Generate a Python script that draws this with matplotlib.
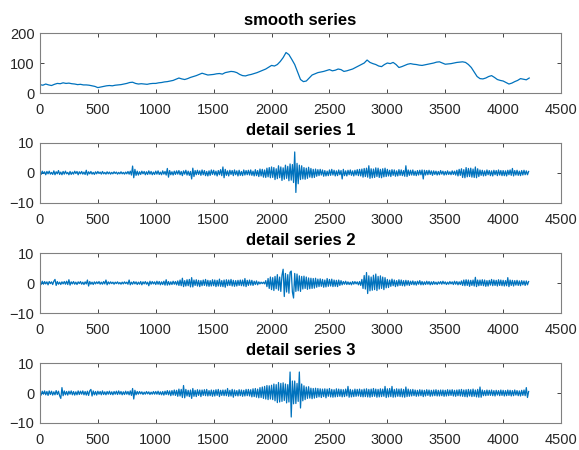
import numpy as np
import matplotlib
matplotlib.use("Agg")
from matplotlib import pyplot as plt

plt.rcParams['font.family'] = ['Liberation Sans', 'DejaVu Sans']

# smooth series, one value every 25 samples
smooth_step = 25
smooth = [
    28, 26, 30, 27, 25, 29, 32, 31, 34, 32, 33, 31, 30, 28, 29, 27, 27, 26, 24, 22, 18,
    20, 22, 24, 25, 24, 26, 27, 28, 30, 32, 35, 36, 32, 30, 31, 30, 29, 31, 32, 32,
    34, 35, 37, 38, 40, 42, 46, 50, 47, 45, 48, 52, 55, 58, 62, 66, 63, 60, 61, 62,
    64, 65, 63, 68, 70, 72, 71, 68, 62, 58, 57, 60, 62, 65, 68, 72, 76, 80, 86, 92,
    90, 95, 105, 118, 135, 128, 112, 95, 70, 45, 38, 40, 50, 60, 64, 68, 70, 72, 75, 78,
    74, 76, 80, 78, 72, 74, 77, 80, 85, 90, 95, 100, 110, 102, 98, 95, 90, 88, 95, 100,
    98, 102, 95, 85, 88, 92, 96, 98, 96, 95, 93, 92, 94, 96, 98, 100, 103, 104, 100, 96,
    97, 98, 100, 102, 103, 104, 102, 95, 85, 70, 55, 48, 47, 50, 55, 58, 52, 45, 42, 40,
    35, 30, 33, 38, 42, 48, 46, 44, 50,
]

# detail series, one value every 10 samples (one row = 200 samples)
detail_step = 10
detail1 = [
    0.3, -0.5, 0.6, -0.2, 0.4, -0.6, 0.5, -0.3, 0.6, -0.4, 0.2, -0.5, 0.7, -0.6, 0.4, -0.3, 0.8, -0.5, 0.3, -0.6,
    0.5, -0.4, 0.6, -0.3, 0.2, -0.6, 0.5, -0.5, 0.3, -0.4, 0.6, -0.2, 0.5, -0.6, 0.4, -0.3, 0.5, -0.4, 0.3, -0.5,
    0.9, -0.7, 0.4, -0.3, 0.5, -0.4, 0.2, -0.5, 0.4, -0.3, 0.5, -0.2, 0.3, -0.4, 0.5, -0.3, 0.2, -0.4, 0.4, -0.3,
    0.3, -0.4, 0.2, -0.3, 0.4, -0.2, 0.3, -0.4, 0.2, -0.3, 0.4, -0.3, 0.2, -0.4, 0.3, -0.3, 0.5, -0.4, 0.6, -0.7,
    2.3, -1.6, 1.2, -0.8, 0.6, -0.7, 0.4, -0.5, 0.6, -0.3, 0.5, -0.6, 0.4, -0.5, 0.7, -0.4, 0.5, -0.6, 0.3, -0.5,
    0.6, -0.4, 0.7, -0.5, 0.3, -0.6, 0.7, -0.4, 0.5, -0.7, 1.5, -1.4, 0.8, -0.6, 0.4, -0.7, 0.6, -0.5, 0.7, -0.4,
    0.8, -0.6, 0.5, -0.9, 0.7, -0.4, 0.9, -0.7, 0.6, -0.8, 0.5, -2.0, 1.6, -1.2, 0.8, -0.6, 0.9, -0.5, 0.7, -0.8,
    1.0, -0.6, 0.8, -0.9, 0.5, -1.0, 0.7, -0.8, 1.0, -0.5, 0.9, -0.7, 0.6, -1.0, 0.8, -0.6, 1.1, -0.9, 2.0, -1.6,
    1.2, -0.8, 0.7, -1.0, 0.9, -0.5, 0.8, -0.9, 1.0, -0.6, 0.7, -1.0, 0.9, -0.8, 0.5, -0.9, 1.0, -0.7, 0.8, -0.6,
    0.9, -0.7, 1.0, -0.8, 0.6, -1.0, 1.1, -0.9, 0.8, -1.2, 1.3, -1.0, 1.2, -1.4, 1.0, -1.5, 1.6, -1.3, 1.8, -1.6,
    2.0, -1.5, 1.8, -2.2, 1.4, -1.9, 2.4, -1.6, 2.0, -2.5, 1.7, -2.1, 2.6, -1.8, 2.2, -2.6, 3.0, -2.4, 2.8, -3.2,
    7.0, -6.5, 3.2, -3.6, 2.6, -2.2, 2.4, -2.0, 1.8, -2.1, 1.6, -1.8, 1.9, -1.4, 1.5, -1.6, 1.2, -1.5, 1.3, -1.1,
    1.1, -0.9, 1.2, -0.7, 1.0, -1.1, 0.8, -1.0, 0.6, -0.9, 1.0, -0.8, 1.2, -0.7, 0.9, -1.0, 0.7, -0.9, 1.0, -0.6,
    0.8, -2.0, 1.2, -0.9, 0.7, -1.0, 0.9, -0.6, 1.0, -0.8, 0.7, -1.0, 0.9, -0.7, 1.1, -0.9, 1.2, -1.0, 1.3, -1.4,
    1.5, -1.2, 1.6, -1.4, 2.4, -1.8, 1.4, -1.6, 1.3, -1.5, 1.7, -1.2, 1.6, -1.5, 1.2, -1.6, 1.4, -1.3, 1.6, -1.2,
    1.2, -1.0, 0.9, -1.2, 1.1, -0.8, 1.0, -1.1, 0.7, -1.0, 1.1, -0.8, 1.0, -0.9, 0.8, -1.1, 2.4, -1.2, 1.0, -0.8,
    0.9, -0.7, 1.0, -0.8, 0.6, -0.9, 0.8, -0.7, 0.9, -0.6, 1.0, -2.0, 0.9, -0.7, 0.8, -0.6, 0.9, -0.5, 0.7, -0.8,
    0.7, -0.5, 0.6, -0.7, 0.5, -0.6, 0.8, -0.4, 0.6, -0.7, 0.5, -0.6, 0.7, -0.5, 0.4, -0.6, 0.7, -0.5, 0.6, -0.7,
    0.9, -1.0, 1.2, -0.8, 1.4, -1.5, 1.1, -1.6, 1.8, -1.3, 1.5, -1.2, 1.6, -1.4, 1.3, -1.5, 2.0, -1.6, 1.4, -1.2,
    1.0, -0.8, 0.9, -1.0, 0.7, -0.9, 1.0, -0.6, 0.8, -0.9, 0.7, -1.0, 0.9, -0.6, 0.8, -0.9, 1.0, -0.7, 0.8, -0.9,
    0.8, -0.9, 0.7, -1.0, 0.9, -0.6, 1.0, -0.8, 1.5, -1.0, 0.8, -0.7, 0.9, -0.8, 0.6, -0.9, 0.8, -0.7, 0.9, -0.6,
    0.7, -0.6, 0.5,
]
detail2 = [
    0.3, -0.5, 0.6, -0.4, 0.5, -0.3, 0.4, -0.6, 0.5, -0.2, 0.4, -0.5, 0.6, 1.2, -0.8, 0.5, -0.4, 0.3, -0.5, 0.4,
    -0.3, 0.5, -0.4, 0.6, -0.5, 1.1, -0.7, 0.4, -0.3, 0.5, -0.4, 0.3, -0.5, 0.4, -0.2, 0.5, -0.4, 0.3, -0.5, 0.4,
    -0.3, 1.0, -1.0, 0.5, -0.4, 0.3, -0.5, 0.4, -0.3, 0.4, -0.2, 0.5, -0.4, 0.3, -0.4, 0.5, -0.3, 1.0, -0.6, 0.4,
    -0.3, 0.4, -0.2, 0.3, -0.4, 0.3, -0.2, 0.4, -0.3, 0.2, -0.4, 0.3, -0.3, 0.4, -0.2, 0.3, -0.4, 1.0, -0.6, 0.3,
    -0.4, 0.5, -0.3, 0.4, -0.5, 0.3, -0.4, 0.5, -0.6, 0.4, -0.3, 0.5, -0.4, 0.3, -0.9, 0.6, -0.4, 0.5, -0.3, 0.4,
    -0.5, 0.6, -0.4, 0.5, -0.6, 0.4, -0.5, 0.6, -0.7, 1.1, -0.7, 0.5, -0.6, 0.4, -0.5, 0.6, -0.4, 0.5, -0.6, 0.7,
    -0.8, 1.0, -0.9, 1.6, -1.2, 0.8, -1.0, 1.1, -0.9, 1.2, -1.3, 1.8, -1.3, 1.0, -0.8, 1.1, -1.0, 0.9, -1.2, 0.8,
    -0.9, 1.0, -0.8, 1.2, -1.0, 0.9, -1.1, 0.8, -1.0, 1.1, -0.9, 1.0, -1.2, 0.9, -1.0, 1.3, -1.1, 0.8, -1.2, 1.0,
    -1.4, 1.1, -0.9, 1.0, -0.8, 1.2, -1.0, 0.9, -1.1, 0.8, -1.0, 0.9, -0.8, 1.0, -0.9, 1.0, -1.0, 1.5, -1.2, 0.9,
    -0.8, 1.0, -0.7, 0.9, -0.8, 0.6, -0.5, 0.7, -0.6, 0.4, -0.3, 0.3, -0.2, 0.3, -0.3, 0.8, -1.2, 1.5, -1.8, 2.0,
    -2.2, 1.8, -2.5, 2.2, -1.9, 2.8, -2.4, 2.0, -2.8, 2.6, 4.6, -4.5, 3.2, -3.0, 2.8, -3.4, 3.6, 4.0, -3.0, -5.0,
    3.2, -2.8, 3.0, -2.6, 2.4, -2.8, 2.2, -2.0, 2.3, -1.8, 2.0, -2.1, 1.7, -1.9, 1.6, -1.8, 1.5, -1.7, 1.6, -1.4,
    1.3, -1.2, 1.4, -1.1, 1.2, -1.4, 1.0, -1.3, 1.5, -1.1, 1.2, -1.0, 1.3, -1.2, 1.0, -1.1, 0.9, -1.2, 1.0, -0.8,
    0.8, -0.6, 0.5, -0.4, 0.6, -0.5, 0.4, -0.5, 0.3, -0.6, 0.5, -0.4, 0.5, -0.3, 0.4, -0.6, 0.5, -0.8, 1.2, -1.8,
    2.5, -2.0, 3.5, -3.5, 2.4, -2.6, 2.0, -2.4, 2.6, -2.2, 3.0, -2.5, 2.2, -2.0, 2.4, -1.8, 2.0, -2.2, 1.8, -1.6,
    1.2, -1.5, 1.0, -1.1, 1.3, -0.9, 1.0, -1.2, 0.8, -1.0, 1.1, -0.8, 1.0, -0.9, 0.8, -1.0, 0.9, -0.7, 0.8, -0.8,
    0.6, -0.5, 0.7, -0.6, 0.5, -0.7, 0.6, -0.4, 0.8, -0.6, 0.5, -0.6, 0.4, -0.5, 0.6, -0.4, 0.5, -0.6, 0.4, -0.5,
    0.5, -0.4, 0.3, -0.5, 0.4, -0.3, 0.5, -0.4, 0.6, -0.3, 0.4, -0.5, 0.3, -0.4, 0.5, -0.3, 0.4, -0.5, 0.6, -0.4,
    0.5, -0.6, 0.4, -0.5, 0.7, -0.8, 1.0, -0.9, 1.1, -0.8, 1.0, -1.1, 0.9, -0.8, 1.0, -1.0, 1.9, -1.2, 1.0, -0.9,
    1.0, -0.8, 1.1, -0.9, 1.0, -1.1, 0.8, -1.0, 0.9, -0.7, 1.2, -0.9, 1.0, -0.8, 0.9, -1.0, 1.1, -0.8, 1.0, -0.9,
    0.9, -1.0, 0.8, -0.9, 1.8, -1.2, 1.0, -0.8, 0.9, -1.0, 0.8, -0.7, 0.9, -0.8, 0.7, -0.9, 0.8, -0.6, 0.7, -0.8,
    0.7, -0.6, 0.5,
]
detail3 = [
    0.5, -0.7, 0.6, -0.4, 0.7, -0.6, 0.5, -0.8, 0.7, -0.5, 0.6, -0.7, 0.4, -0.6, 0.8, -0.5, 0.6, -0.9, -1.8, 1.8,
    -0.9, 0.7, -0.6, 0.5, -0.7, 0.6, -0.4, 0.7, -0.6, 0.5, -0.7, 0.4, -0.6, 0.7, -0.5, 0.6, -0.4, 0.7, -0.6, 0.5,
    -0.7, 0.6, -0.8, 0.7, 1.2, -1.0, 0.7, -0.6, 0.5, -0.7, 0.6, -0.4, 0.5, -0.6, 0.7, -0.5, 0.4, -0.6, 0.5, -0.4,
    0.6, -0.5, 0.4, -0.6, 0.5, -0.4, 0.6, -0.5, 0.7, -0.4, 0.5, -0.6, 0.4, -0.5, 0.6, -0.4, 0.5, -0.6, 0.7, -0.8,
    1.5, -2.0, 0.9, -0.6, 0.5, -0.4, 0.5, -0.3, 0.4, -0.5, 0.3, -0.4, 0.5, -0.3, 0.4, -0.5, 0.3, -0.4, 0.5, -0.4,
    0.5, -0.4, 0.6, -0.5, 0.4, -0.6, 0.5, -0.7, 0.6, -0.5, 0.8, -0.6, 0.7, -0.9, 0.8, -0.7, 1.0, -0.8, 0.9, -1.1,
    1.3, -1.0, 1.2, -1.5, 2.5, -1.6, 1.2, -1.0, 0.9, -1.2, 1.0, -1.8, 1.5, -1.1, 0.9, -1.2, 1.1, -0.8, 1.0, -1.2,
    1.0, -0.8, 1.1, -0.9, 1.2, -1.0, 0.8, -0.9, 1.0, -1.1, 0.9, -1.0, 1.1, -0.8, 1.2, -1.2, 0.9, -0.8, 1.0, -0.9,
    1.0, -0.9, 1.5, -1.1, 0.9, -1.0, 1.2, -1.4, 1.0, -0.9, 0.8, -1.0, 1.1, -0.9, 1.0, -1.1, 0.9, -1.0, 1.2, -0.9,
    1.2, -1.0, 1.1, -1.3, 1.4, -1.2, 1.5, -1.4, 1.3, -1.6, 1.8, -1.5, 2.0, -1.8, 2.2, -2.0, 2.5, -2.2, 2.4, -2.0,
    2.6, -2.2, 3.0, -2.6, 2.8, -3.2, 3.5, -3.0, 3.2, -2.8, 3.4, -2.5, 3.0, -3.3, 2.8, -3.0, 7.0, -8.0, 4.0, -3.6,
    4.0, -3.5, 3.2, -2.8, 7.0, -5.0, 3.0, -2.6, 2.4, -2.2, 2.0, -1.8, 2.1, -1.7, 1.6, -1.9, 1.5, -1.7, 1.6, -1.5,
    1.5, -1.3, 1.4, -1.5, 1.3, -1.2, 1.4, -1.6, 1.3, -1.1, 1.5, -1.3, 1.2, -1.4, 1.1, -1.3, 1.4, -1.2, 1.3, -1.1,
    1.2, -1.3, 1.1, -1.2, 1.3, -1.0, 2.2, -1.4, 1.2, -1.3, 1.0, -1.2, 1.3, -1.1, 1.2, -1.0, 1.3, -1.2, 1.1, -1.3,
    1.3, -1.2, 1.4, -1.3, 1.2, -1.4, 1.3, -1.2, 1.5, -1.1, 1.3, -1.4, 1.2, -1.3, 1.4, -1.2, 1.3, -1.1, 2.2, -1.5,
    1.4, -1.3, 1.5, -1.2, 2.2, -1.4, 1.2, -1.3, 1.4, -1.1, 1.3, -1.2, 1.4, -1.3, 1.2, -1.4, 2.0, -1.2, 1.3, -1.1,
    1.1, -1.0, 1.2, -0.9, 1.0, -1.1, 0.9, -1.0, 1.1, -0.9, 1.0, -1.2, 0.9, -1.0, 1.1, -0.8, 1.0, -1.1, 0.9, -1.0,
    1.0, -0.9, 1.1, -1.0, 0.9, -1.0, 1.0, -0.9, 1.0, -1.1, 0.9, -1.0, 1.1, -0.9, 1.0, -0.8, 1.1, -1.0, 0.9, -1.1,
    1.0, -0.9, 1.1, -1.0, 1.2, -1.1, 1.0, -1.2, 1.1, -1.3, 1.2, -1.0, 1.1, -1.2, 1.3, -1.1, 1.0, -1.3, 1.2, -1.4,
    2.0, -1.4, 1.0, -0.9, 0.8, -0.9, 1.0, -0.8, 0.9, -0.8, 1.0, -0.9, 0.8, -1.0, 0.9, -0.7, 0.8, -0.9, 1.0, -0.8,
    0.9, -1.0, 0.8, -0.9, 1.0, -0.8, 0.9, -1.0, 0.8, -0.9, 1.0, -0.7, 0.8, -0.9, 0.7, -1.0, 0.9, -0.8, 1.0, -0.9,
    1.8, -1.5, 0.5,
]

titles = ['smooth series', 'detail series 1', 'detail series 2', 'detail series 3']
xticks = [0, 500, 1000, 1500, 2000, 2500, 3000, 3500, 4000, 4500]

line_color = '#0072BD'
axis_color = '#262626'

fig = plt.figure(figsize=(5.79, 4.5), dpi=100)

left, width, height = 0.069, 0.900, 0.1333
bottoms = [0.7933, 0.549, 0.3044, 0.06]

series = [smooth, detail1, detail2, detail3]
steps = [smooth_step, detail_step, detail_step, detail_step]

for i in range(4):
    ax = fig.add_axes([left, bottoms[i], width, height])
    y = np.array(series[i])
    x = np.arange(len(y)) * steps[i]
    ax.plot(x, y, color=line_color, linewidth=0.9)
    ax.set_xlim(0, 4500)
    ax.set_xticks(xticks)
    if i == 0:
        ax.set_ylim(0, 200)
        ax.set_yticks([0, 100, 200])
    else:
        ax.set_ylim(-10, 10)
        ax.set_yticks([-10, 0, 10])
    ax.set_title(titles[i], fontsize=12, fontweight='bold', pad=6, color='black')
    ax.tick_params(direction='in', top=True, right=True, length=3, width=0.6,
                   labelsize=10.5, colors=axis_color)
    ax.tick_params(axis='x', pad=7)
    ax.tick_params(axis='y', pad=4)
    for sp in ax.spines.values():
        sp.set_color('#808080')
        sp.set_linewidth(0.8)

fig.savefig('out.png', dpi=100)
